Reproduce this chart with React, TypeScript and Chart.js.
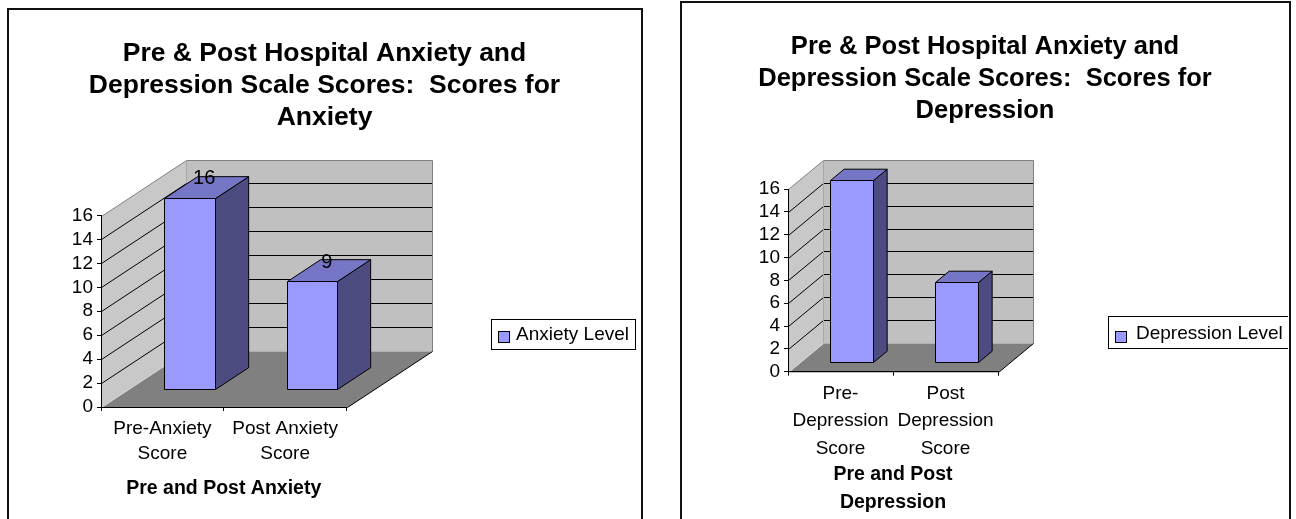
import { useEffect, useRef } from "react";
import { Chart, registerables } from "chart.js";

Chart.register(...registerables);

const FONT = '"Liberation Sans", Arial, Helvetica, sans-serif';

// Anxiety chart
const anxietyTitle = ["Pre & Post Hospital Anxiety and", "Depression Scale Scores:  Scores for", "Anxiety"];
const anxietyCategories = [["Pre-Anxiety", "Score"], ["Post Anxiety", "Score"]];
const anxietyValues = [16, 9];
const anxietySeries = "Anxiety Level";
const anxietyAxisTitle = "Pre and Post Anxiety";

// Depression chart
const depressionTitle = ["Pre & Post Hospital Anxiety and", "Depression Scale Scores:  Scores for", "Depression"];
const depressionCategories = [["Pre-", "Depression", "Score"], ["Post", "Depression", "Score"]];
const depressionValues = [16, 7];
const depressionSeries = "Depression Level";
const depressionAxisTitle = ["Pre and Post", "Depression"];

// Shared value axis
const scaleMin = 0;
const scaleMax = 16;
const scaleStep = 2;

const COLORS = {
  front: "#9999FF",
  top: "#7676C6",
  side: "#4C4C80",
  backWall: "#C0C0C0",
  sideWall: "#C8C8C8",
  floor: "#808080",
  wallEdge: "#808080",
};

type Pt = [number, number];

function poly(ctx: CanvasRenderingContext2D, pts: Pt[], fill?: string, stroke?: string) {
  ctx.beginPath();
  pts.forEach(([x, y], i) => (i ? ctx.lineTo(x, y) : ctx.moveTo(x, y)));
  ctx.closePath();
  if (fill) {
    ctx.fillStyle = fill;
    ctx.fill();
  }
  if (stroke) {
    ctx.strokeStyle = stroke;
    ctx.lineWidth = 1;
    ctx.stroke();
  }
}

function seg(ctx: CanvasRenderingContext2D, a: Pt, b: Pt, color: string) {
  ctx.beginPath();
  ctx.moveTo(a[0], a[1]);
  ctx.lineTo(b[0], b[1]);
  ctx.strokeStyle = color;
  ctx.lineWidth = 1;
  ctx.stroke();
}

const h = (v: number) => Math.round(v) + 0.5;

// Walls, floor, 3D columns and the boxed legend in the classic spreadsheet style
const columns3d = {
  id: "columns3d",
  beforeDraw(chart: any, _args: any, o: any) {
    const { ctx } = chart;
    const xs = chart.scales.x;
    const ys = chart.scales.y;
    const { dx, dy } = o;
    const L = h(xs.left);
    const R = h(xs.right);
    const y0 = h(ys.getPixelForValue(ys.min));
    const yT = h(ys.getPixelForValue(ys.max));
    ctx.save();
    // side wall and back wall
    poly(ctx, [[L, y0], [L, yT], [L + dx, yT + dy], [L + dx, y0 + dy]], COLORS.sideWall);
    poly(ctx, [[L + dx, yT + dy], [R + dx, yT + dy], [R + dx, y0 + dy], [L + dx, y0 + dy]], COLORS.backWall);
    // gridlines running along both walls
    ys.ticks.forEach((t: any) => {
      if (t.value <= ys.min || t.value >= ys.max) return;
      const py = h(ys.getPixelForValue(t.value));
      seg(ctx, [L, py], [L + dx, py + dy], "#000");
      seg(ctx, [L + dx, py + dy], [R + dx, py + dy], "#000");
    });
    // wall outlines
    ctx.beginPath();
    ctx.moveTo(L, yT);
    ctx.lineTo(L + dx, yT + dy);
    ctx.lineTo(R + dx, yT + dy);
    ctx.lineTo(R + dx, y0 + dy);
    ctx.strokeStyle = COLORS.wallEdge;
    ctx.lineWidth = 1;
    ctx.stroke();
    seg(ctx, [L + dx, yT + dy], [L + dx, y0 + dy], "#A8A8A8");
    // floor
    poly(ctx, [[L, y0], [R, y0], [R + dx, y0 + dy], [L + dx, y0 + dy]], COLORS.floor);
    seg(ctx, [L, y0], [L + dx, y0 + dy], "#D8D8D8");
    seg(ctx, [R, y0], [R + dx, y0 + dy], "#000");
    ctx.restore();
  },
  beforeDatasetDraw() {
    return false;
  },
  afterDatasetsDraw(chart: any, _args: any, o: any) {
    const { ctx } = chart;
    const { dx, dy, front, depth } = o;
    const meta = chart.getDatasetMeta(0);
    const values = chart.data.datasets[0].data;
    const ox = dx * front;
    const oy = dy * front;
    const bx = dx * depth;
    const by = dy * depth;
    ctx.save();
    meta.data.forEach((bar: any, i: number) => {
      const p = bar.getProps(["x", "y", "base", "width"], true);
      const l = h(p.x - p.width / 2 + ox);
      const r = h(p.x + p.width / 2 + ox);
      const t = h(p.y + oy);
      const b = h(p.base + oy);
      poly(ctx, [[r, t], [r + bx, t + by], [r + bx, b + by], [r, b]], COLORS.side, "#000");
      poly(ctx, [[l, t], [l + bx, t + by], [r + bx, t + by], [r, t]], COLORS.top, "#000");
      poly(ctx, [[l, t], [r, t], [r, b], [l, b]], COLORS.front, "#000");
      if (o.showValues) {
        ctx.fillStyle = "#000";
        ctx.font = `20px ${FONT}`;
        ctx.textAlign = "center";
        ctx.textBaseline = "middle";
        ctx.fillText(String(values[i]), p.x + dx * (front + depth / 2) - 2, p.y + dy * (front + depth / 2) - 8);
      }
    });
    ctx.restore();
  },
  afterDraw(chart: any, _args: any, o: any) {
    const { ctx } = chart;
    const lg = o.legend;
    const ds = chart.data.datasets[0];
    ctx.save();
    ctx.font = `19px ${FONT}`;
    const tw = ctx.measureText(ds.label).width;
    const w = 7 + 12 + lg.gap + tw + 6;
    ctx.fillStyle = "#fff";
    ctx.fillRect(lg.x, lg.y, w, lg.h);
    ctx.strokeStyle = "#000";
    ctx.lineWidth = 1;
    ctx.strokeRect(lg.x + 0.5, lg.y + 0.5, Math.round(w), lg.h);
    const sy = lg.y + lg.swatchY;
    ctx.fillStyle = ds.backgroundColor;
    ctx.fillRect(lg.x + 7, sy, 12, 12);
    ctx.strokeRect(lg.x + 7.5, sy + 0.5, 11, 11);
    ctx.fillStyle = "#000";
    ctx.textAlign = "left";
    ctx.textBaseline = "middle";
    ctx.fillText(ds.label, lg.x + 19 + lg.gap, lg.y + lg.textY);
    ctx.restore();
  },
};

type Params = {
  title: string[];
  titleSize: number;
  titlePad: { top: number; bottom: number };
  categories: string[][];
  values: number[];
  series: string;
  axisTitle: string | string[];
  axisTitleLineHeight: number;
  axisTitlePadBottom: number;
  labelLineHeight: number;
  labelPad: number;
  yAxisWidth: number;
  xAxisHeight: number;
  padRight: number;
  dx: number;
  dy: number;
  showValues: boolean;
  legend: { x: number; y: number; h: number; gap: number; swatchY: number; textY: number };
};

function makeConfig(p: Params): any {
  return {
    type: "bar",
    data: {
      labels: p.categories,
      datasets: [
        {
          label: p.series,
          data: p.values,
          backgroundColor: COLORS.front,
          barPercentage: 0.41,
          categoryPercentage: 1,
        },
      ],
    },
    plugins: [columns3d],
    options: {
      responsive: false,
      animation: false,
      events: [],
      layout: { padding: 0 },
      scales: {
        x: {
          offset: true,
          ticks: {
            color: "#000",
            font: { family: FONT, size: 19, lineHeight: `${p.labelLineHeight}px` },
            padding: p.labelPad,
            maxRotation: 0,
            autoSkip: false,
          },
          grid: { offset: true, drawOnChartArea: false, drawTicks: true, tickLength: 4, color: "#000" },
          border: { display: true, color: "#000", width: 1 },
          title: {
            display: true,
            text: p.axisTitle,
            color: "#000",
            font: { family: FONT, size: 19.5, weight: "bold", lineHeight: `${p.axisTitleLineHeight}px` },
            padding: { top: 0, bottom: p.axisTitlePadBottom },
          },
          afterFit: (s: any) => {
            s.height = p.xAxisHeight;
          },
        },
        y: {
          min: scaleMin,
          max: scaleMax,
          ticks: {
            stepSize: scaleStep,
            autoSkip: false,
            color: "#000",
            font: { family: FONT, size: 19, lineHeight: 1 },
            padding: 4,
          },
          grid: { drawOnChartArea: false, drawTicks: true, tickLength: 4, color: "#000" },
          border: { display: true, color: "#000", width: 1 },
          afterFit: (s: any) => {
            s.width = p.yAxisWidth;
          },
        },
        // empty axis on the right that keeps room for the walls' depth and the legend
        reserve: {
          type: "linear",
          position: "right",
          display: true,
          ticks: { display: false },
          grid: { display: false, drawTicks: false },
          border: { display: false },
          afterFit: (s: any) => {
            s.width = p.padRight;
          },
        },
      },
      plugins: {
        legend: { display: false },
        tooltip: { enabled: false },
        title: {
          display: true,
          text: p.title,
          color: "#000",
          font: { family: FONT, size: p.titleSize, weight: "bold", lineHeight: "32px" },
          padding: p.titlePad,
        },
        columns3d: {
          dx: p.dx,
          dy: p.dy,
          front: 0.32,
          depth: 0.39,
          showValues: p.showValues,
          legend: p.legend,
        },
      },
    },
  };
}

function Column3DChart({ params, left, top, width, height }: { params: Params; left: number; top: number; width: number; height: number }) {
  const ref = useRef<HTMLCanvasElement>(null);
  useEffect(() => {
    const chart = new Chart(ref.current as HTMLCanvasElement, makeConfig(params));
    return () => chart.destroy();
  }, []);
  return (
    <canvas
      ref={ref}
      width={width}
      height={height}
      style={{ position: "absolute", left, top, width, height, display: "block" }}
    />
  );
}

const anxietyParams: Params = {
  title: anxietyTitle,
  titleSize: 26.5,
  titlePad: { top: 28, bottom: 81.5 },
  categories: anxietyCategories,
  values: anxietyValues,
  series: anxietySeries,
  axisTitle: anxietyAxisTitle,
  axisTitleLineHeight: 22,
  axisTitlePadBottom: 19,
  labelLineHeight: 25,
  labelPad: 5,
  yAxisWidth: 92,
  xAxisHeight: 112,
  padRight: 293.5,
  dx: 85,
  dy: -56,
  showValues: true,
  legend: { x: 482, y: 309, h: 30, gap: 6, swatchY: 12, textY: 15.5 },
};

const depressionParams: Params = {
  title: depressionTitle,
  titleSize: 25.5,
  titlePad: { top: 28, bottom: 62 },
  categories: depressionCategories,
  values: depressionValues,
  series: depressionSeries,
  axisTitle: depressionAxisTitle,
  axisTitleLineHeight: 28,
  axisTitlePadBottom: 2,
  labelLineHeight: 27.5,
  labelPad: 4,
  yAxisWidth: 106,
  xAxisHeight: 147.3,
  padRight: 290,
  dx: 35,
  dy: -29,
  showValues: false,
  legend: { x: 426, y: 313, h: 32, gap: 9, swatchY: 15, textY: 18 },
};

export default function App() {
  return (
    <div
      style={{
        position: "fixed",
        left: 0,
        top: 0,
        width: 1296,
        height: 519,
        overflow: "hidden",
        background: "#fff",
      }}
    >
      <div
        style={{
          position: "absolute",
          left: 7,
          top: 8,
          width: 636,
          height: 600,
          border: "2px solid #111",
          boxSizing: "border-box",
        }}
      />
      <div
        style={{
          position: "absolute",
          left: 680,
          top: 1,
          width: 611,
          height: 600,
          border: "2px solid #111",
          boxSizing: "border-box",
        }}
      />
      <Column3DChart params={anxietyParams} left={9} top={10} width={631} height={509} />
      <Column3DChart params={depressionParams} left={682} top={3} width={606} height={516} />
    </div>
  );
}
